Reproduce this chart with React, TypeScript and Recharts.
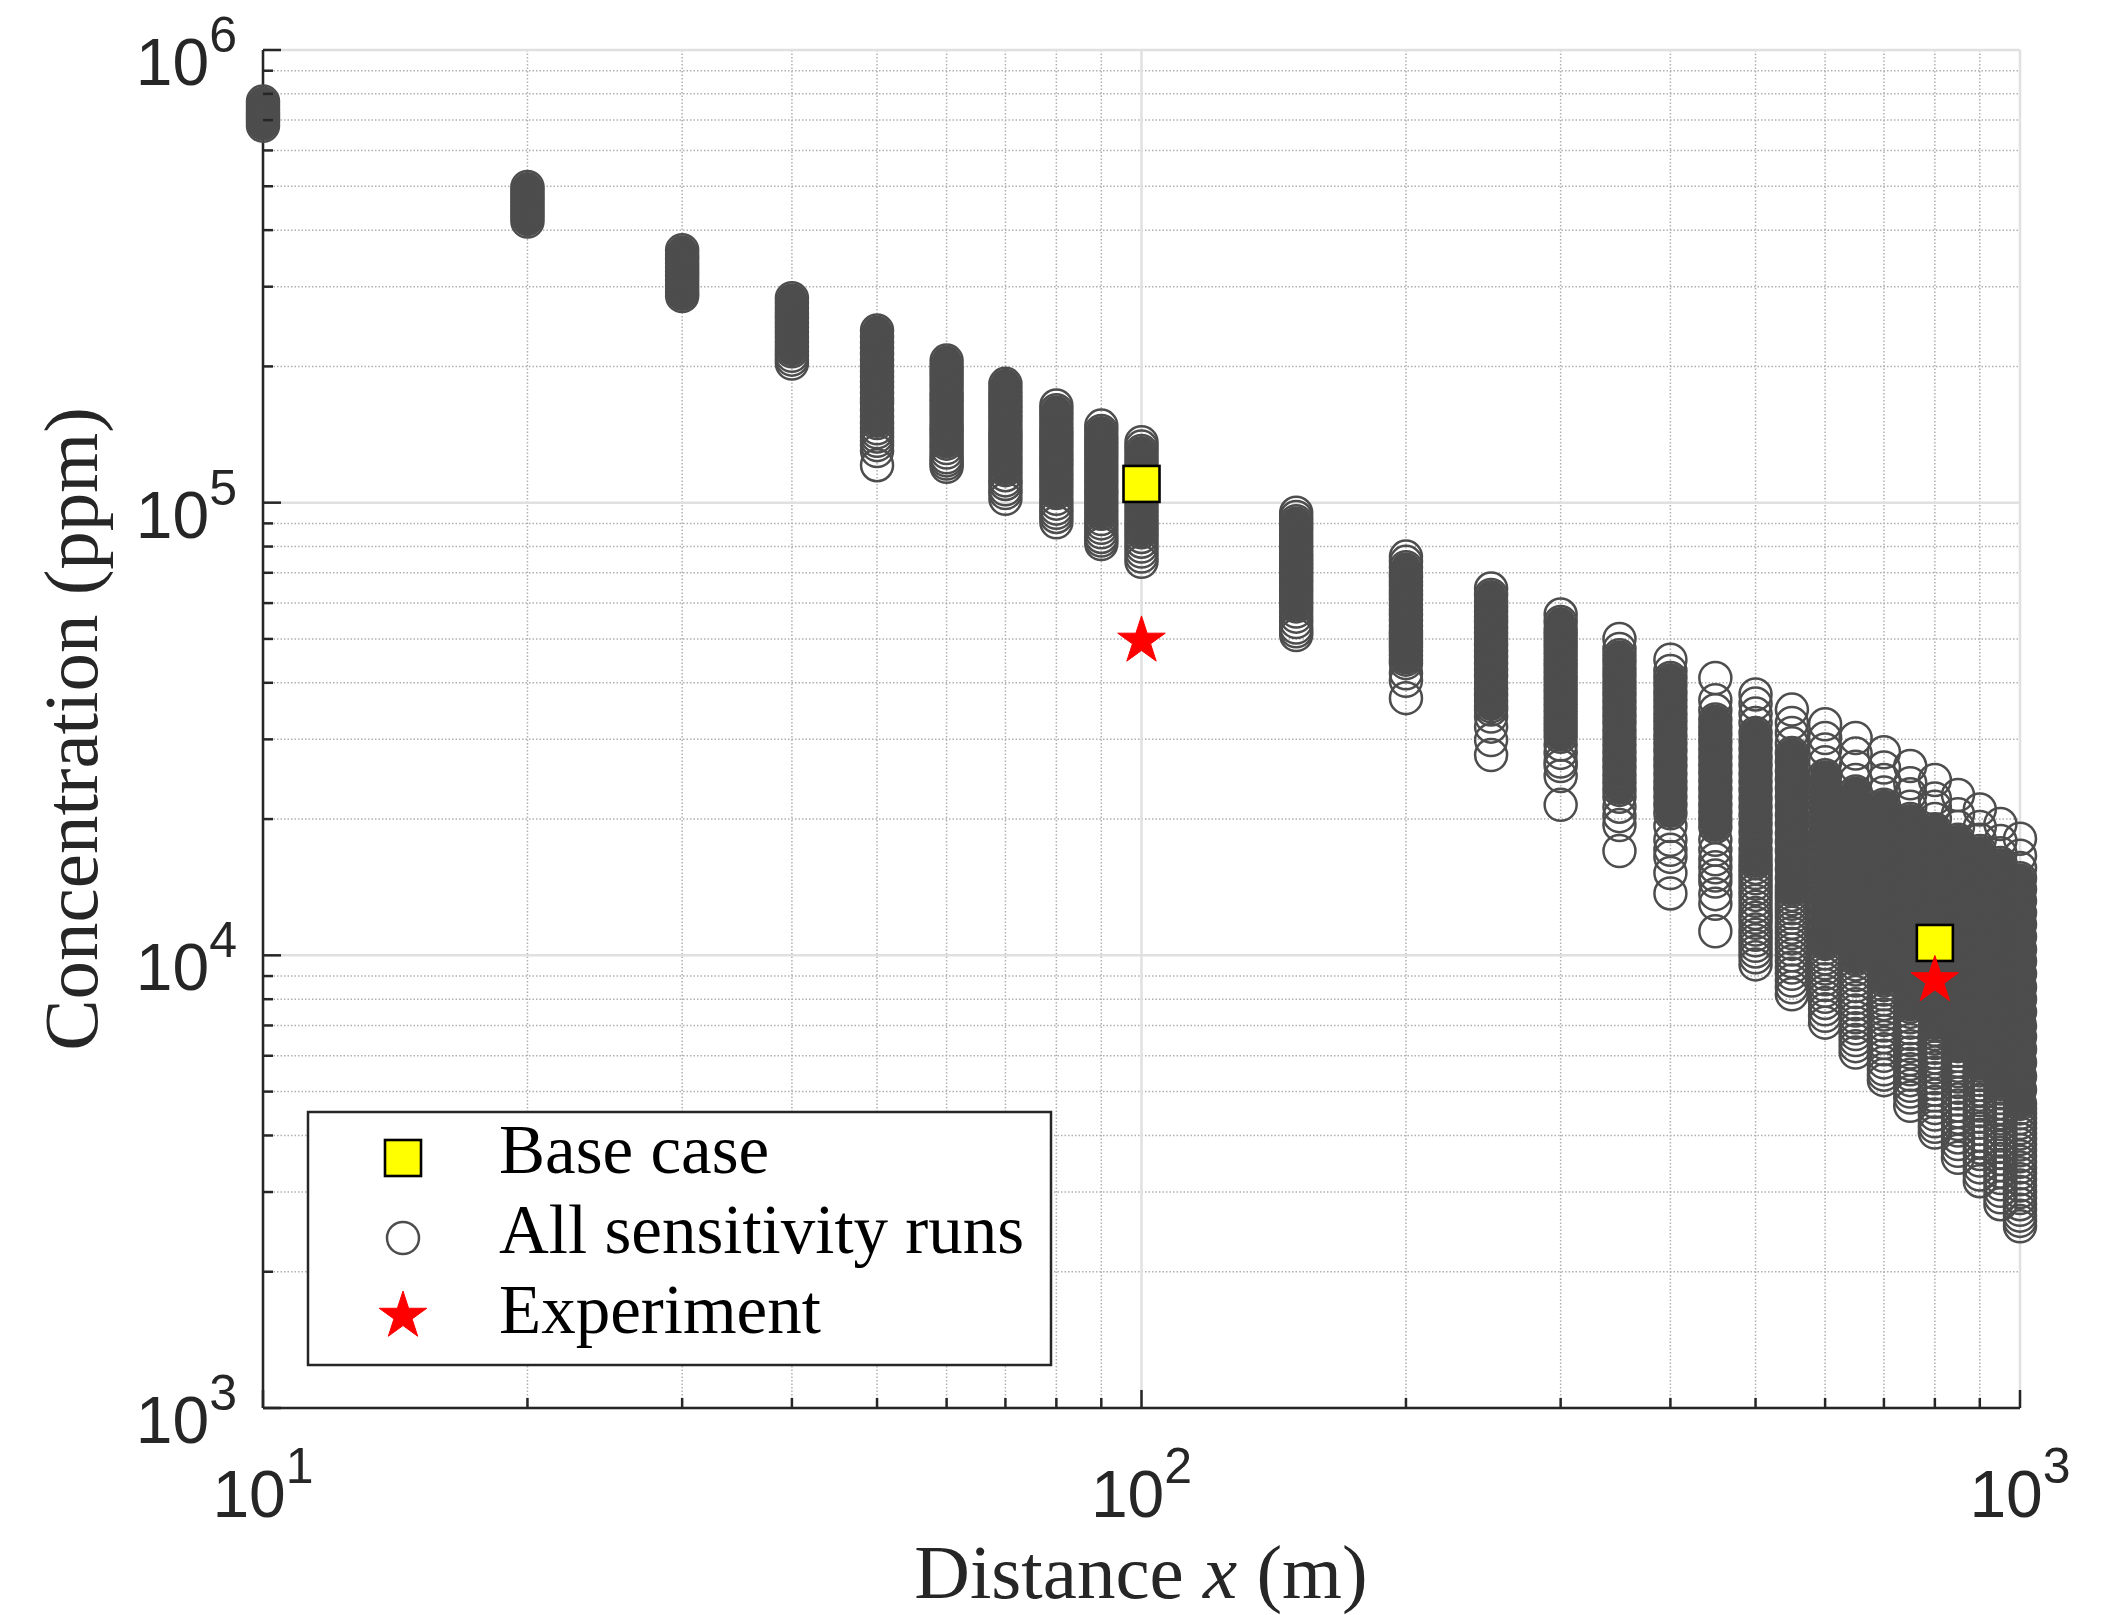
import React from "react";
import {
  ScatterChart,
  Scatter,
  XAxis,
  YAxis,
  CartesianGrid,
} from "recharts";

// Concentration values in thousands of ppm, one list per distance (m)
const run10 = [770, 755, 740, 728, 715, 703, 692, 680];
const run20 = [498, 488, 478, 470, 461, 452, 444, 436, 427, 418];
const run30 = [361, 353, 345, 338, 331, 324, 317, 310, 303, 297, 291, 286];
const run40 = [283, 276, 269, 262, 256, 250, 244, 238, 232, 226, 221, 216, 211, 207, 203];
const run50 = [240, 233, 226, 220, 213, 207, 201, 195, 190, 185, 180, 175, 170, 166, 160, 155, 150, 146, 143, 140, 137, 134, 130, 121];
const run60 = [206, 200, 195, 190, 185, 180, 175, 171, 167, 163, 159, 155, 151, 147, 144, 141, 138, 135, 132, 129, 126, 124, 122, 120];
const run70 = [183, 178, 173, 169, 165, 161, 157, 153, 149, 145, 142, 139, 136, 133, 130, 127, 124, 121, 118, 115, 112, 110, 107, 105, 102];
const run80 = [164, 160, 156, 152, 148, 144, 141, 138, 135, 132, 129, 126, 123, 120, 117, 114, 111, 108, 105, 102, 99.5, 97, 95, 93, 90.5];
const run90 = [148, 144, 140, 137, 134, 131, 128, 125, 122, 119, 116, 113, 110, 107, 104.5, 102, 99.5, 97, 94.5, 92, 90, 88, 86, 84, 82.5, 81];
const run100 = [136, 133, 130, 127, 124, 121, 118, 115, 112, 109.5, 107, 104.5, 102, 99.5, 97, 94.5, 92, 90, 88, 86, 84, 82, 80, 78, 76, 74];
const run150 = [95, 93, 91, 89, 87, 85, 83, 81, 79, 77, 75.5, 74, 72.5, 71, 69.5, 68, 66.5, 65, 63.5, 62, 60.5, 59, 57.5, 56, 54.5, 53, 52, 51];
const run200 = [76, 74, 72, 70, 68.5, 67, 65.5, 64, 62.5, 61, 59.5, 58, 56.5, 55, 53.5, 52, 51, 50, 49, 48, 47, 46, 45, 44.2, 42, 40.4, 37];
const run250 = [64.6, 62.5, 60.5, 59, 57.5, 56, 54.5, 53, 51.5, 50, 48.5, 47, 45.6, 44.2, 42.8, 41.4, 40, 38.8, 37.6, 36.5, 35.5, 34.9, 33.7, 32, 29.9, 27.7];
const run300 = [56.6, 54.5, 52.5, 51, 49.5, 48, 46.5, 45, 43.6, 42.2, 40.8, 39.5, 38.2, 37, 35.8, 34.6, 33.5, 32.4, 31.4, 30.4, 29.2, 28, 26.8, 26.2, 24.9, 21.5];
const run350 = [50, 47.5, 46, 44.5, 43, 41.6, 40.2, 38.9, 37.6, 36.3, 35, 33.8, 32.6, 31.4, 30.3, 29.2, 28.1, 27, 26, 25, 24.1, 23.2, 22.4, 21.3, 20.3, 19.4, 17];
const run400 = [45, 42.5, 41, 39.5, 38, 36.7, 35.4, 34.1, 32.9, 31.7, 30.5, 29.4, 28.3, 27.2, 26.2, 25.2, 24.2, 23.3, 22.4, 21.5, 20.6, 19.3, 18, 17.1, 16.5, 15.2, 13.7];
const run450 = [41, 36.6, 34.8, 33.2, 31.9, 30.8, 29.6, 28.5, 27.4, 26.3, 25.3, 24.3, 23.3, 22.4, 21.5, 20.7, 19.9, 19.2, 18, 17.1, 16.3, 15.65, 15, 14.55, 13.65, 13, 11.3];
const run500 = [37.7, 36, 34.2, 32.6, 31, 29.8, 28.6, 27.4, 26.3, 25.2, 24.2, 23.2, 22.2, 21.3, 20.4, 19.5, 18.7, 17.9, 17.1, 16.5, 16, 15.6, 15.2, 14.8, 14.4, 14, 13.6, 13.2, 12.8, 12.4, 12.1, 11.8, 11.4, 11.1, 10.8, 10.5, 10.2, 9.9, 9.55];
const run550 = [34.9, 32.6, 31, 29.4, 28, 26.8, 25.6, 24.5, 23.4, 22.4, 21.4, 20.4, 19.5, 18.6, 17.8, 17, 16.2, 15.5, 14.8, 14.2, 13.9, 13.6, 13.3, 13, 12.7, 12.4, 12.1, 11.8, 11.5, 11.2, 10.9, 10.6, 10.3, 10, 9.7, 9.4, 9.1, 8.8, 8.5, 8.2];
const run600 = [32.4, 30.2, 28.5, 26.7, 25, 23.8, 22.6, 21.5, 20.4, 19.4, 18.4, 17.5, 16.6, 15.8, 15, 14.3, 13.6, 12.9, 12.2, 11.6, 11, 10.6, 10.35, 10.1, 9.85, 9.6, 9.35, 9.1, 8.85, 8.6, 8.35, 8.1, 7.85, 7.6, 7.35, 7.1];
const run650 = [30.2, 27.9, 26.1, 24.4, 23, 21.8, 20.6, 19.5, 18.4, 17.4, 16.4, 15.5, 14.6, 13.8, 13, 12.3, 11.6, 10.9, 10.3, 9.8, 9.55, 9.3, 9.05, 8.8, 8.55, 8.3, 8.05, 7.8, 7.55, 7.3, 7.1, 6.9, 6.7, 6.5, 6.3, 6.1];
const run700 = [28.1, 26, 24.4, 22.9, 21.5, 20.3, 19.1, 18, 17, 16, 15.1, 14.2, 13.4, 12.6, 11.9, 11.2, 10.5, 9.9, 9.3, 8.8, 8.6, 8.4, 8.2, 8, 7.8, 7.6, 7.4, 7.2, 7, 6.8, 6.6, 6.4, 6.2, 6, 5.8, 5.6, 5.45, 5.3];
const run750 = [26.2, 24, 22.7, 21.3, 20, 18.8, 17.7, 16.6, 15.6, 14.7, 13.8, 13, 12.2, 11.5, 10.8, 10.1, 9.5, 8.9, 8.4, 7.9, 7.7, 7.5, 7.3, 7.1, 6.9, 6.7, 6.5, 6.3, 6.1, 5.9, 5.75, 5.6, 5.45, 5.3, 5.15, 5, 4.85, 4.65];
const run800 = [24.4, 22.2, 21.3, 20, 19, 17.9, 16.8, 15.8, 14.9, 14, 13.2, 12.4, 11.7, 11, 10.3, 9.7, 9.1, 8.5, 8, 7.5, 7, 6.85, 6.7, 6.55, 6.4, 6.25, 6.1, 5.95, 5.8, 5.65, 5.5, 5.35, 5.2, 5.05, 4.9, 4.75, 4.6, 4.45, 4.3, 4.18, 4.06];
const run850 = [22.6, 20.5, 19.2, 18, 17, 16, 15.1, 14.2, 13.4, 12.6, 11.9, 11.2, 10.5, 9.9, 9.3, 8.7, 8.2, 7.7, 7.2, 6.75, 6.3, 6.15, 6, 5.85, 5.7, 5.55, 5.4, 5.25, 5.1, 4.95, 4.8, 4.66, 4.52, 4.38, 4.24, 4.1, 3.96, 3.83, 3.7, 3.57];
const run900 = [21, 19.2, 18, 17, 16, 15.1, 14.2, 13.4, 12.6, 11.9, 11.2, 10.5, 9.9, 9.3, 8.7, 8.2, 7.7, 7.2, 6.75, 6.3, 5.95, 5.7, 5.57, 5.44, 5.31, 5.18, 5.05, 4.92, 4.79, 4.66, 4.53, 4.4, 4.27, 4.14, 4.01, 3.88, 3.76, 3.64, 3.52, 3.4, 3.28, 3.17];
const run950 = [19.5, 17.9, 16.8, 16, 15.1, 14.2, 13.4, 12.6, 11.9, 11.2, 10.5, 9.9, 9.3, 8.7, 8.2, 7.7, 7.2, 6.75, 6.3, 5.9, 5.5, 5.2, 5.08, 4.96, 4.84, 4.72, 4.6, 4.48, 4.36, 4.24, 4.12, 4, 3.88, 3.77, 3.66, 3.55, 3.44, 3.33, 3.22, 3.12, 3.02, 2.92, 2.82];
const run1000 = [18.1, 16.6, 15.6, 14.8, 14, 13.2, 12.4, 11.7, 11, 10.3, 9.7, 9.1, 8.5, 8, 7.5, 7, 6.6, 6.2, 5.8, 5.4, 5.05, 4.7, 4.59, 4.48, 4.37, 4.26, 4.15, 4.04, 3.93, 3.82, 3.71, 3.6, 3.5, 3.4, 3.3, 3.2, 3.1, 3, 2.91, 2.82, 2.74, 2.66, 2.59, 2.52];

const distances = [10, 20, 30, 40, 50, 60, 70, 80, 90, 100, 150, 200, 250, 300, 350, 400, 450, 500, 550, 600, 650, 700, 750, 800, 850, 900, 950, 1000];
const runs = [run10, run20, run30, run40, run50, run60, run70, run80, run90, run100, run150, run200, run250, run300, run350, run400, run450, run500, run550, run600, run650, run700, run750, run800, run850, run900, run950, run1000];

// range (thousand ppm) where the runs overlap so densely that the column reads as solid
const coreTop = [770, 498, 361, 283, 240, 206, 183, 160, 144, 130, 91, 72, 62.5, 54.5, 46, 41, 33.2, 31, 28, 25, 23, 21.5, 20, 19, 18, 17, 16, 14.8];
const coreBottom = [680, 418, 286, 216, 150, 135, 118, 105, 94.5, 86, 59, 45, 35.5, 30.4, 23.2, 20.6, 19.2, 16, 13.9, 10.6, 9.8, 8.8, 7.7, 7, 6.3, 5.7, 5.2, 4.7];

const baseX = [100, 800];
const baseY = [110000, 10650];
const expX = [100, 800];
const expY = [49500, 8800];

const xTicks = [10, 20, 30, 40, 50, 60, 70, 80, 90, 100, 200, 300, 400, 500, 600, 700, 800, 900, 1000];
const yTicks = [
  1e3, 2e3, 3e3, 4e3, 5e3, 6e3, 7e3, 8e3, 9e3,
  1e4, 2e4, 3e4, 4e4, 5e4, 6e4, 7e4, 8e4, 9e4,
  1e5, 2e5, 3e5, 4e5, 5e5, 6e5, 7e5, 8e5, 9e5, 1e6,
];
const xMajor = [10, 100, 1000];
const yMajor = [1e3, 1e4, 1e5, 1e6];
const xMinor = xTicks.filter((v) => !xMajor.includes(v));
const yMinor = yTicks.filter((v) => !yMajor.includes(v));

const runData = distances.flatMap((d, i) => runs[i].map((v) => ({ x: d, y: v * 1000 })));
const coreData = distances.map((d, i) =>
  runs[i]
    .filter((v) => v <= coreTop[i] && v >= coreBottom[i])
    .map((v) => ({ x: d, y: v * 1000 }))
);
const baseData = baseX.map((x, i) => ({ x, y: baseY[i] }));
const expData = expX.map((x, i) => ({ x, y: expY[i] }));

const AXIS = "#262626";
const RING = "#4d4d4d";
const SANS = "'Liberation Sans', Arial, sans-serif";
const SERIF = "'Liberation Serif', 'Times New Roman', serif";

function starPoints(cx: number, cy: number, R: number) {
  const r = R * 0.382;
  const pts: string[] = [];
  for (let k = 0; k < 10; k++) {
    const a = (-90 + k * 36) * (Math.PI / 180);
    const rad = k % 2 === 0 ? R : r;
    pts.push(`${cx + rad * Math.cos(a)},${cy + rad * Math.sin(a)}`);
  }
  return pts.join(" ");
}

const renderNothing = () => <g />;
const renderRing = (p: any) => (
  <circle cx={p.cx} cy={p.cy} r={16} fill="none" stroke={RING} strokeWidth={2.5} />
);
const renderSquare = (p: any) => (
  <rect x={p.cx - 18} y={p.cy - 18} width={36} height={36} fill="#ffff00" stroke="#000" strokeWidth={2.6} />
);
const renderStar = (p: any) => (
  <polygon points={starPoints(p.cx, p.cy, 25)} fill="#ff0000" stroke="#ff0000" strokeWidth={1} />
);

function expLabel(v: number) {
  return String(Math.round(Math.log10(v)));
}

const XTick = (p: any) => {
  const v = p.payload.value;
  const major = xMajor.includes(v);
  return (
    <g>
      <line x1={p.x} x2={p.x} y1={p.y} y2={p.y - (major ? 18 : 10)} stroke={AXIS} strokeWidth={2.5} />
      {major && (
        <text x={p.x} y={p.y + 109} textAnchor="middle" fill={AXIS} fontFamily={SANS} fontSize={66}>
          10
          <tspan dy={-34} fontSize={50}>{expLabel(v)}</tspan>
        </text>
      )}
    </g>
  );
};

const YTick = (p: any) => {
  const v = p.payload.value;
  const major = yMajor.includes(v);
  return (
    <g>
      <line x1={p.x} x2={p.x + (major ? 18 : 10)} y1={p.y} y2={p.y} stroke={AXIS} strokeWidth={2.5} />
      {major && (
        <text x={p.x - 26} y={p.y + 35} textAnchor="end" fill={AXIS} fontFamily={SANS} fontSize={66}>
          10
          <tspan dy={-33} fontSize={50}>{expLabel(v)}</tspan>
        </text>
      )}
    </g>
  );
};

function LegendBox() {
  return (
    <svg width={2112} height={1615} style={{ position: "absolute", left: 0, top: 0, pointerEvents: "none" }}>
      <rect x={308} y={1112} width={743} height={253} fill="#fff" stroke={AXIS} strokeWidth={2.5} />
      <rect x={385} y={1140} width={36} height={36} fill="#ffff00" stroke="#000" strokeWidth={2.6} />
      <circle cx={403} cy={1238} r={16} fill="none" stroke={RING} strokeWidth={2.5} />
      <polygon points={starPoints(403, 1316, 25)} fill="#ff0000" stroke="#ff0000" strokeWidth={1} />
      <g fontFamily={SERIF} fontSize={69} fill="#000">
        <text x={499} y={1173}>Base case</text>
        <text x={499} y={1253}>All sensitivity runs</text>
        <text x={499} y={1333}>Experiment</text>
      </g>
    </svg>
  );
}

export default function App() {
  return (
    <div style={{ position: "absolute", left: 0, top: 0, width: 2112, height: 1615, background: "#fff" }}>
      <ScatterChart width={2112} height={1615} margin={{ top: 50, right: 92, bottom: 0, left: 0 }}>
        <CartesianGrid
          horizontal
          vertical
          horizontalValues={yMinor}
          verticalValues={xMinor}
          stroke="#b0b0b0"
          strokeWidth={1.5}
          strokeDasharray="1.5 2"
        />
        <CartesianGrid
          horizontal
          vertical
          horizontalValues={yMajor}
          verticalValues={xMajor}
          stroke="#e0e0e0"
          strokeWidth={2.5}
        />
        <XAxis
          type="number"
          dataKey="x"
          scale="log"
          domain={[10, 1000]}
          ticks={xTicks}
          interval={0}
          tickSize={0}
          tickMargin={0}
          tickLine={false}
          tick={XTick}
          axisLine={{ stroke: AXIS, strokeWidth: 2.5 }}
          height={207}
        />
        <YAxis
          type="number"
          dataKey="y"
          scale="log"
          domain={[1000, 1000000]}
          ticks={yTicks}
          interval={0}
          tickSize={0}
          tickMargin={0}
          tickLine={false}
          tick={YTick}
          axisLine={{ stroke: AXIS, strokeWidth: 2.5 }}
          width={263}
        />
        {coreData.map((pts, i) => (
          <Scatter
            key={distances[i]}
            data={pts}
            shape={renderNothing}
            line={{ stroke: RING, strokeWidth: 30, strokeLinecap: "round" }}
            isAnimationActive={false}
          />
        ))}
        <Scatter data={runData} shape={renderRing} isAnimationActive={false} />
        <Scatter data={baseData} shape={renderSquare} isAnimationActive={false} />
        <Scatter data={expData} shape={renderStar} isAnimationActive={false} />
      </ScatterChart>
      <svg width={2112} height={1615} style={{ position: "absolute", left: 0, top: 0, pointerEvents: "none" }}>
        <text x={1141} y={1598} textAnchor="middle" fontFamily={SERIF} fontSize={77} fill={AXIS}>
          Distance <tspan fontStyle="italic">x</tspan> (m)
        </text>
        <text
          transform="translate(97, 729) rotate(-90)"
          textAnchor="middle"
          fontFamily={SERIF}
          fontSize={77}
          fill={AXIS}
        >
          Concentration (ppm)
        </text>
      </svg>
      <LegendBox />
    </div>
  );
}
